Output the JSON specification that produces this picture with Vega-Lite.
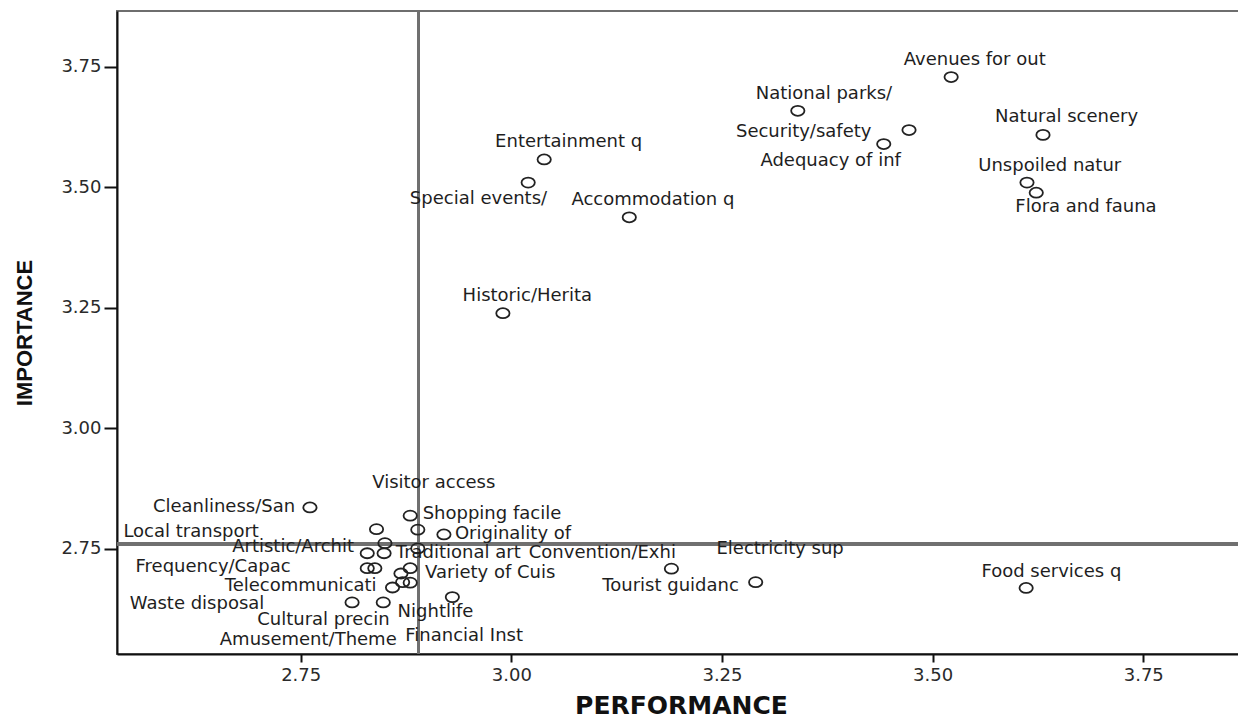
{
  "$schema": "https://vega.github.io/schema/vega-lite/v6.json",
  "width": 1124,
  "height": 643,
  "autosize": {"type": "none"},
  "padding": {"left": 117, "top": 11, "right": 0, "bottom": 65},
  "background": "white",
  "config": {"view": {"stroke": "#6e6e6e", "strokeWidth": 2}, "font": "DejaVu Sans"},
  "data": {
    "values": [
      {"label": "Avenues for out", "performance": 3.522, "importance": 3.729, "lx": 3.550, "ly": 3.765},
      {"label": "National parks/", "performance": 3.340, "importance": 3.659, "lx": 3.371, "ly": 3.694},
      {"label": "Security/safety", "performance": 3.472, "importance": 3.619, "lx": 3.347, "ly": 3.616},
      {"label": "Adequacy of inf", "performance": 3.442, "importance": 3.590, "lx": 3.379, "ly": 3.555},
      {"label": "Natural scenery", "performance": 3.631, "importance": 3.609, "lx": 3.659, "ly": 3.646},
      {"label": "Unspoiled natur", "performance": 3.612, "importance": 3.510, "lx": 3.639, "ly": 3.545},
      {"label": "Flora and fauna", "performance": 3.623, "importance": 3.489, "lx": 3.682, "ly": 3.459},
      {"label": "Entertainment q", "performance": 3.039, "importance": 3.558, "lx": 3.068, "ly": 3.595},
      {"label": "Special events/", "performance": 3.020, "importance": 3.510, "lx": 2.961, "ly": 3.476},
      {"label": "Accommodation q", "performance": 3.140, "importance": 3.438, "lx": 3.168, "ly": 3.474},
      {"label": "Historic/Herita", "performance": 2.990, "importance": 3.239, "lx": 3.019, "ly": 3.275},
      {"label": "Cleanliness/San", "performance": 2.761, "importance": 2.836, "lx": 2.659, "ly": 2.836},
      {"label": "Shopping facile", "performance": 2.880, "importance": 2.819, "lx": 2.977, "ly": 2.823},
      {"label": "Local transport", "performance": 2.840, "importance": 2.791, "lx": 2.620, "ly": 2.786},
      {"label": "Visitor access", "performance": 2.889, "importance": 2.790, "lx": 2.908, "ly": 2.886},
      {"label": "Originality of", "performance": 2.920, "importance": 2.780, "lx": 3.002, "ly": 2.781},
      {"label": "Artistic/Archit", "performance": 2.850, "importance": 2.762, "lx": 2.741, "ly": 2.754},
      {"label": "Traditional art", "performance": 2.889, "importance": 2.751, "lx": 2.937, "ly": 2.741},
      {"label": "", "performance": 2.829, "importance": 2.741, "lx": null, "ly": null},
      {"label": "Electricity sup", "performance": 2.849, "importance": 2.741, "lx": 3.319, "ly": 2.749},
      {"label": "Frequency/Capac", "performance": 2.829, "importance": 2.710, "lx": 2.646, "ly": 2.713},
      {"label": "", "performance": 2.838, "importance": 2.710, "lx": null, "ly": null},
      {"label": "Variety of Cuis", "performance": 2.880, "importance": 2.710, "lx": 2.975, "ly": 2.700},
      {"label": "Amusement/Theme", "performance": 2.869, "importance": 2.699, "lx": 2.759, "ly": 2.561},
      {"label": "Financial Inst", "performance": 2.871, "importance": 2.681, "lx": 2.944, "ly": 2.570},
      {"label": "", "performance": 2.880, "importance": 2.680, "lx": null, "ly": null},
      {"label": "Telecommunicati", "performance": 2.859, "importance": 2.670, "lx": 2.750, "ly": 2.674},
      {"label": "Waste disposal", "performance": 2.811, "importance": 2.639, "lx": 2.627, "ly": 2.636},
      {"label": "Cultural precin", "performance": 2.848, "importance": 2.639, "lx": 2.777, "ly": 2.603},
      {"label": "Nightlife", "performance": 2.930, "importance": 2.650, "lx": 2.910, "ly": 2.620},
      {"label": "Convention/Exhi", "performance": 3.190, "importance": 2.709, "lx": 3.108, "ly": 2.741},
      {"label": "Tourist guidanc", "performance": 3.290, "importance": 2.681, "lx": 3.189, "ly": 2.674},
      {"label": "Food services q", "performance": 3.611, "importance": 2.669, "lx": 3.641, "ly": 2.703}
    ]
  },
  "layer": [
    {
      "mark": {"type": "rule", "color": "#707070", "strokeWidth": 2.5},
      "encoding": {"x": {"datum": 2.89, "type": "quantitative"}}
    },
    {
      "mark": {"type": "rule", "color": "#707070", "strokeWidth": 2.5},
      "encoding": {"y": {"datum": 2.76, "type": "quantitative"}}
    },
    {
      "mark": {
        "type": "point",
        "shape": "M -1.33,0 A 1.33,1 0 1,0 1.33,0 A 1.33,1 0 1,0 -1.33,0 Z",
        "size": 100,
        "filled": false,
        "stroke": "#222222",
        "strokeWidth": 1.8,
        "opacity": 1
      },
      "encoding": {
        "x": {
          "field": "performance", "type": "quantitative",
          "scale": {"domain": [2.532, 3.866], "nice": false, "zero": false},
          "axis": {
            "title": "PERFORMANCE", "values": [2.75, 3, 3.25, 3.5, 3.75], "format": ".2f", "grid": false,
            "domainColor": "#111111", "domainWidth": 2, "tickColor": "#111111", "tickWidth": 2, "tickSize": 8,
            "labelFont": "DejaVu Sans", "labelFontSize": 18, "labelColor": "#2a2a2a", "labelPadding": 4,
            "titleFont": "DejaVu Sans", "titleFontWeight": "bold", "titleFontSize": 25, "titleColor": "#111111",
            "titleX": 564, "titleY": 51, "titleBaseline": "middle", "titleAlign": "center"
          }
        },
        "y": {
          "field": "importance", "type": "quantitative",
          "scale": {"domain": [2.532, 3.866], "nice": false, "zero": false},
          "axis": {
            "title": "IMPORTANCE", "values": [2.75, 3, 3.25, 3.5, 3.75], "format": ".2f", "grid": false,
            "domainColor": "#111111", "domainWidth": 2, "tickColor": "#111111", "tickWidth": 2, "tickSize": 13,
            "labelFont": "DejaVu Sans", "labelFontSize": 18, "labelColor": "#2a2a2a", "labelPadding": 3,
            "titleFont": "Liberation Sans", "titleFontWeight": "bold", "titleFontSize": 22, "titleColor": "#111111",
            "titleAngle": 270, "titleX": -93, "titleY": 321.5, "titleBaseline": "middle", "titleAlign": "center"
          }
        }
      }
    },
    {
      "transform": [{"filter": "datum.label != ''"}],
      "mark": {"type": "text", "font": "DejaVu Sans", "fontSize": 18, "color": "#1e1e1e", "align": "center", "baseline": "middle"},
      "encoding": {
        "x": {
          "field": "lx", "type": "quantitative",
          "scale": {"domain": [2.532, 3.866], "nice": false, "zero": false},
          "axis": {
            "title": "PERFORMANCE", "values": [2.75, 3, 3.25, 3.5, 3.75], "format": ".2f", "grid": false,
            "domainColor": "#111111", "domainWidth": 2, "tickColor": "#111111", "tickWidth": 2, "tickSize": 8,
            "labelFont": "DejaVu Sans", "labelFontSize": 18, "labelColor": "#2a2a2a", "labelPadding": 4,
            "titleFont": "DejaVu Sans", "titleFontWeight": "bold", "titleFontSize": 25, "titleColor": "#111111",
            "titleX": 564, "titleY": 51, "titleBaseline": "middle", "titleAlign": "center"
          }
        },
        "y": {
          "field": "ly", "type": "quantitative",
          "scale": {"domain": [2.532, 3.866], "nice": false, "zero": false},
          "axis": {
            "title": "IMPORTANCE", "values": [2.75, 3, 3.25, 3.5, 3.75], "format": ".2f", "grid": false,
            "domainColor": "#111111", "domainWidth": 2, "tickColor": "#111111", "tickWidth": 2, "tickSize": 13,
            "labelFont": "DejaVu Sans", "labelFontSize": 18, "labelColor": "#2a2a2a", "labelPadding": 3,
            "titleFont": "Liberation Sans", "titleFontWeight": "bold", "titleFontSize": 22, "titleColor": "#111111",
            "titleAngle": 270, "titleX": -93, "titleY": 321.5, "titleBaseline": "middle", "titleAlign": "center"
          }
        },
        "text": {"field": "label"}
      }
    }
  ]
}
